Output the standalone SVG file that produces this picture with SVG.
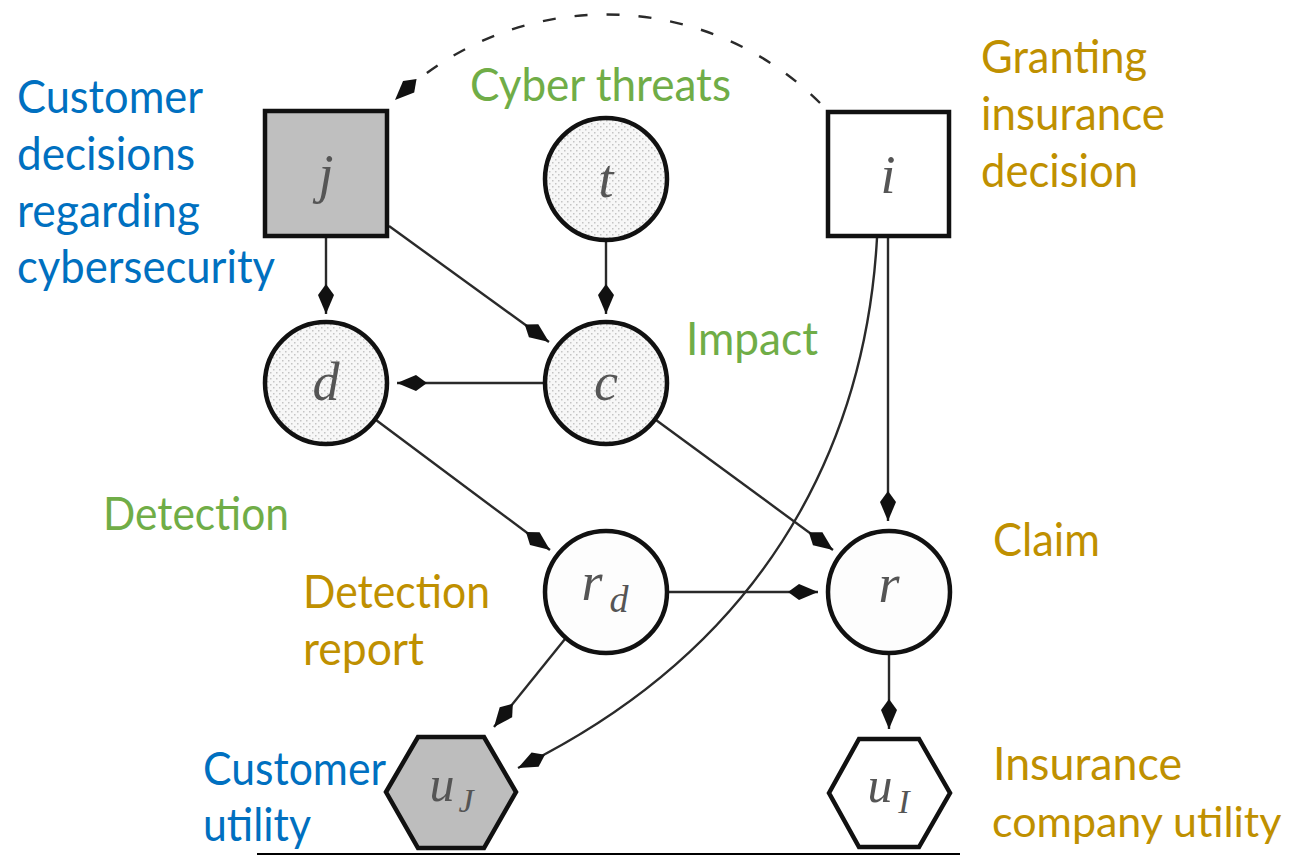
<svg xmlns="http://www.w3.org/2000/svg" width="1299" height="856" viewBox="0 0 1299 856">
<style>
.node{stroke:#111;stroke-width:4.5}
.dot{fill:url(#stipple)}
.mth{font-family:"Liberation Serif",serif;font-style:italic;fill:#555;text-anchor:middle}
.edge{fill:none;stroke:#2a2a2a;stroke-width:2.4}
.lbl{font-family:Lato,"Open Sans",sans-serif;font-size:46px}
.blue{fill:#0070C0}
.green{fill:#70AD47}
.gold{fill:#BF9000}
</style>
<defs>
<pattern id="stipple" patternUnits="userSpaceOnUse" width="6" height="6">
<rect width="6" height="6" fill="#f7f7f7"/>
<rect x="0" y="0" width="1.5" height="1.5" fill="#c4c4c4"/>
<rect x="3" y="3" width="1.5" height="1.5" fill="#c4c4c4"/>
</pattern>
<marker id="ah" markerUnits="userSpaceOnUse" viewBox="0 0 32 20" markerWidth="32" markerHeight="20" refX="30" refY="10" orient="auto">
<path d="M0,10 L11,2 L30,10 L11,18 Z" fill="#111"/>
</marker>
</defs>
<rect width="1299" height="856" fill="#fff"/>

<g id="connectors">
<path class="edge" d="M820,103 A303,303 0 0 0 395,100" stroke-dasharray="13 19" stroke-width="2.5" marker-end="url(#ah)"/>
<line class="edge" x1="326" y1="238" x2="326" y2="314" marker-end="url(#ah)"/>
<line class="edge" x1="389" y1="226" x2="549" y2="342" marker-end="url(#ah)"/>
<line class="edge" x1="606" y1="241" x2="606" y2="314" marker-end="url(#ah)"/>
<line class="edge" x1="544" y1="383" x2="397" y2="383" marker-end="url(#ah)"/>
<line class="edge" x1="376" y1="420" x2="550" y2="550" marker-end="url(#ah)"/>
<line class="edge" x1="656" y1="420" x2="833" y2="550" marker-end="url(#ah)"/>
<line class="edge" x1="888" y1="238" x2="888" y2="521" stroke="#777" stroke-width="2.8" marker-end="url(#ah)"/>
<path class="edge" d="M877,238 C868,400 800,630 518,768" stroke="#555" stroke-width="2" marker-end="url(#ah)"/>
<line class="edge" x1="668" y1="592" x2="818" y2="592" marker-end="url(#ah)"/>
<line class="edge" x1="565" y1="639" x2="494" y2="727" marker-end="url(#ah)"/>
<line class="edge" x1="889" y1="655" x2="889" y2="729" marker-end="url(#ah)"/>
</g>

<g id="node-j">
<rect class="node" x="265" y="111" width="122" height="125" fill="#bfbfbf"/>
<text class="mth" x="326" y="192" font-size="54">j</text>
</g>
<g id="node-t">
<circle class="node dot" cx="606" cy="179" r="61"/>
<text class="mth" x="606" y="197" font-size="54">t</text>
</g>
<g id="node-i">
<rect class="node" x="828" y="112" width="121" height="124" fill="#fff"/>
<text class="mth" x="888" y="193" font-size="54">i</text>
</g>
<g id="node-d">
<circle class="node dot" cx="326" cy="383" r="61"/>
<text class="mth" x="326" y="400" font-size="54">d</text>
</g>
<g id="node-c">
<circle class="node dot" cx="606" cy="383" r="61"/>
<text class="mth" x="606" y="400" font-size="54">c</text>
</g>
<g id="node-rd">
<circle class="node" cx="606" cy="592" r="61" fill="#fdfdfd"/>
<text class="mth" x="592" y="600" font-size="54">r</text>
<text class="mth" x="619" y="612" font-size="38">d</text>
</g>
<g id="node-r">
<circle class="node" cx="889" cy="592" r="61" fill="#fdfdfd"/>
<text class="mth" x="889" y="602" font-size="54">r</text>
</g>
<g id="node-uJ">
<polygon class="node" points="386,792 418,737 484,737 516,792 484,848 418,848" fill="#bdbdbd"/>
<text class="mth" x="442" y="801" font-size="50">u</text>
<text class="mth" x="466" y="812" font-size="34">J</text>
</g>
<g id="node-uI">
<polygon class="node" points="829,793 859,739 919,739 950,793 919,847 859,847" fill="#fff"/>
<text class="mth" x="880" y="802" font-size="50">u</text>
<text class="mth" x="904" y="813" font-size="34">I</text>
</g>

<g id="labels">
<text class="lbl blue" x="17" y="113" textLength="186" lengthAdjust="spacingAndGlyphs">Customer</text>
<text class="lbl blue" x="17" y="170" textLength="178" lengthAdjust="spacingAndGlyphs">decisions</text>
<text class="lbl blue" x="17" y="227" textLength="183" lengthAdjust="spacingAndGlyphs">regarding</text>
<text class="lbl blue" x="17" y="283" textLength="258" lengthAdjust="spacingAndGlyphs">cybersecurity</text>
<text class="lbl green" x="470" y="101" textLength="261" lengthAdjust="spacingAndGlyphs">Cyber threats</text>
<text class="lbl gold" x="981" y="73" textLength="166" lengthAdjust="spacingAndGlyphs">Granting</text>
<text class="lbl gold" x="981" y="130" textLength="184" lengthAdjust="spacingAndGlyphs">insurance</text>
<text class="lbl gold" x="981" y="187" textLength="157" lengthAdjust="spacingAndGlyphs">decision</text>
<text class="lbl green" x="686" y="355" textLength="132" lengthAdjust="spacingAndGlyphs">Impact</text>
<text class="lbl green" x="103" y="530" textLength="186" lengthAdjust="spacingAndGlyphs">Detection</text>
<text class="lbl gold" x="993" y="556" textLength="107" lengthAdjust="spacingAndGlyphs">Claim</text>
<text class="lbl gold" x="303" y="608" textLength="187" lengthAdjust="spacingAndGlyphs">Detection</text>
<text class="lbl gold" x="303" y="665" textLength="121" lengthAdjust="spacingAndGlyphs">report</text>
<text class="lbl blue" x="203" y="785" textLength="183" lengthAdjust="spacingAndGlyphs">Customer</text>
<text class="lbl blue" x="203" y="841" textLength="108" lengthAdjust="spacingAndGlyphs">utility</text>
<text class="lbl gold" x="993" y="780" textLength="189" lengthAdjust="spacingAndGlyphs">Insurance</text>
<text class="lbl gold" x="992" y="837" style="font-size:43px">company utility</text>
</g>
<line x1="257" y1="854" x2="960" y2="854" stroke="#000" stroke-width="2"/>
</svg>
